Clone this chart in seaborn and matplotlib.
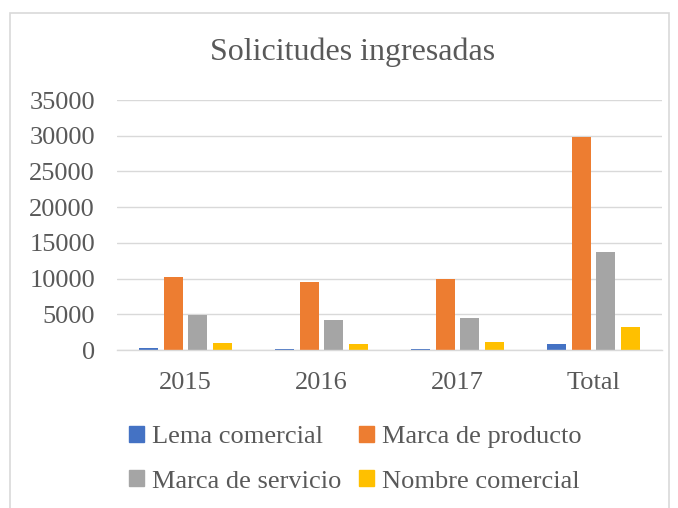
import matplotlib
matplotlib.use("Agg")
import matplotlib.pyplot as plt
import matplotlib.patches as mpatches
import pandas as pd
import seaborn as sns

# Data
years = ["2015", "2016", "2017", "Total"]
lema_comercial = [350, 150, 150, 800]
marca_producto = [10200, 9500, 9950, 29780]
marca_servicio = [4900, 4250, 4500, 13720]
nombre_comercial = [1000, 850, 1150, 3180]

series = ["Lema comercial", "Marca de producto", "Marca de servicio", "Nombre comercial"]
colors = ["#4472C4", "#ED7D31", "#A5A5A5", "#FFC000"]

df = pd.DataFrame({
    "year": years * 4,
    "tipo": [s for s in series for _ in years],
    "value": lema_comercial + marca_producto + marca_servicio + nombre_comercial,
})

sns.set_theme(style="white")
plt.rcParams["font.family"] = ["Liberation Serif", "DejaVu Serif"]
text_color = "#595959"

fig = plt.figure(figsize=(6.78, 5.08), dpi=100)
ax = fig.add_axes([0.173, 0.311, 0.803, 0.492])

sns.barplot(data=df, x="year", y="value", hue="tipo", hue_order=series,
            palette=colors, saturation=1, width=0.72, gap=0.22, ax=ax,
            legend=False, edgecolor="none")

ax.set_ylim(0, 35000)
ax.set_yticks(range(0, 35001, 5000))
ax.yaxis.grid(True, color="#D9D9D9", linewidth=1)
ax.set_axisbelow(True)
for side in ["top", "right", "left"]:
    ax.spines[side].set_visible(False)
ax.spines["bottom"].set_color("#D9D9D9")
ax.spines["bottom"].set_linewidth(1)
ax.tick_params(axis="both", length=0, labelsize=19, labelcolor=text_color)
ax.tick_params(axis="y", pad=16)
ax.tick_params(axis="x", pad=16)
ax.set_xlabel("")
ax.set_ylabel("")

fig.text(0.52, 0.897, "Solicitudes ingresadas", ha="center", va="center",
         fontsize=23, color=text_color)

# legend filled column-wise, so order gives rows: Lema/Marca prod, Marca serv/Nombre
order = [0, 2, 1, 3]
handles = [mpatches.Patch(color=colors[i], label=series[i]) for i in order]
fig.legend(handles=handles, ncol=2, loc="center", bbox_to_anchor=(0.524, 0.096),
           frameon=False, fontsize=19, labelcolor=text_color,
           handlelength=0.55, handleheight=0.55, handletextpad=0.3,
           columnspacing=0.68, labelspacing=0.85)

# chart area border
fig.patches.append(mpatches.Rectangle((0.015, -0.01), 0.972, 0.985,
                                      transform=fig.transFigure, fill=False,
                                      edgecolor="#D9D9D9", linewidth=1.2))

fig.savefig("out.png", dpi=100)
